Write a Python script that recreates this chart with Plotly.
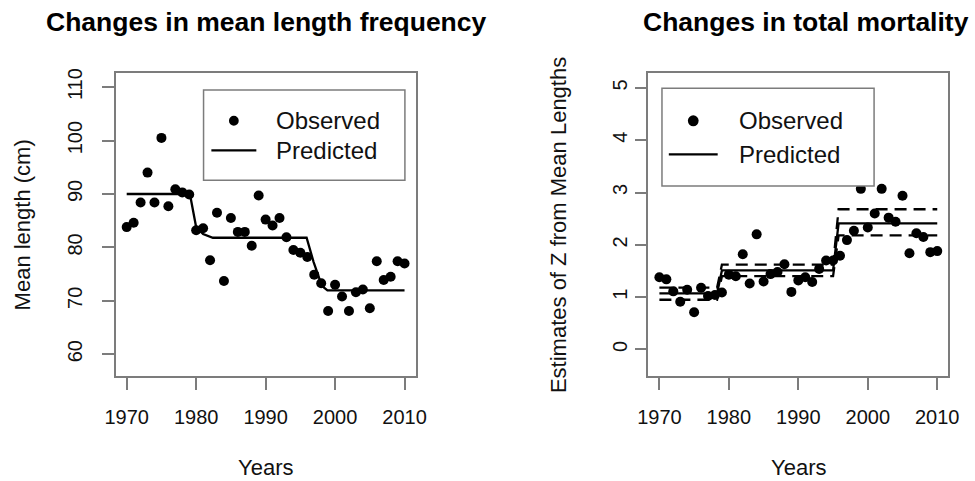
import plotly.graph_objects as go

# ---------------- data ----------------
years = list(range(1970, 2011))

mean_length_obs = [83.8, 84.6, 88.4, 94.0, 88.4, 100.5, 87.7, 90.9, 90.3, 89.9,
                   83.2, 83.6, 77.6, 86.5, 73.7, 85.5, 82.9, 82.9, 80.3, 89.7,
                   85.2, 84.1, 85.5, 81.9, 79.5, 79.0, 78.2, 74.9, 73.3, 68.1,
                   73.0, 70.8, 68.1, 71.6, 72.1, 68.6, 77.4, 73.9, 74.5, 77.4, 77.0]

pred_len_years = [1970, 1979.1, 1980.0, 1981.0, 1982.4, 1995.9, 1996.9, 1998.1, 1998.9, 2010]
pred_len_vals = [90.0, 90.0, 83.8, 82.5, 81.8, 81.8, 77.3, 72.8, 71.95, 71.95]

z_obs = [1.38, 1.34, 1.11, 0.91, 1.14, 0.71, 1.18, 1.02, 1.04, 1.09,
         1.43, 1.40, 1.82, 1.26, 2.20, 1.30, 1.44, 1.48, 1.63, 1.10,
         1.32, 1.38, 1.29, 1.54, 1.70, 1.70, 1.79, 2.09, 2.27, 3.07,
         2.33, 2.60, 3.07, 2.52, 2.44, 2.94, 1.84, 2.22, 2.15, 1.86, 1.88]

pred_z_years = [1970, 1978.3, 1979.0, 1995.0, 1995.8, 2010]
pred_z = [1.07, 1.07, 1.51, 1.51, 2.41, 2.41]
pred_z_upper = [1.18, 1.18, 1.62, 1.62, 2.68, 2.68]
pred_z_lower = [0.95, 0.95, 1.40, 1.40, 2.18, 2.18]

x_ticks = [1970, 1980, 1990, 2000, 2010]
len_ticks = [60, 70, 80, 90, 100, 110]
z_ticks = [0, 1, 2, 3, 4, 5]

titles = ["Changes in mean length frequency", "Changes in total mortality"]
ytitles = ["Mean length (cm)", "Estimates of Z from Mean Lengths"]

# ---------------- layout helpers ----------------
W, H = 975, 481
FONT = "Liberation Sans, Arial, Helvetica, sans-serif"
BOX = "#7c7c7c"
TXT = "#111111"
LEN_RANGE = [55.9, 112.6]
Z_RANGE = [-0.51, 5.28]


def px(x):
    return x / W


def py(y):
    return 1 - y / H


fig = go.Figure()

fig.add_trace(go.Scatter(x=years, y=mean_length_obs, mode="markers",
                         marker=dict(color="black", size=10),
                         xaxis="x", yaxis="y", showlegend=False, name="Observed"))
# predicted line drawn on the label-carrying companion axis (identical range)
fig.add_trace(go.Scatter(x=pred_len_years, y=pred_len_vals, mode="lines",
                         line=dict(color="black", width=2.3),
                         xaxis="x", yaxis="y3", showlegend=False, name="Predicted"))

fig.add_trace(go.Scatter(x=years, y=z_obs, mode="markers",
                         marker=dict(color="black", size=10),
                         xaxis="x2", yaxis="y2", showlegend=False, name="Observed"))
fig.add_trace(go.Scatter(x=pred_z_years, y=pred_z, mode="lines",
                         line=dict(color="black", width=2.3),
                         xaxis="x2", yaxis="y2", showlegend=False, name="Predicted"))
for band in (pred_z_upper, pred_z_lower):
    fig.add_trace(go.Scatter(x=pred_z_years, y=band, mode="lines",
                             line=dict(color="black", width=2.3, dash="12px,7px"),
                             xaxis="x2", yaxis="y2", showlegend=False))

ydom = [py(375), py(69)]
common_x = dict(range=[1968.4, 2011.6], tickvals=x_ticks, ticks="outside", ticklen=12,
                tickcolor=BOX, tickwidth=1.5, showline=True, linecolor=BOX, linewidth=1.5,
                mirror=True, showgrid=False, zeroline=False, ticklabelstandoff=10,
                tickfont=dict(family=FONT, size=20, color=TXT))
common_y = dict(ticks="outside", ticklen=12, tickcolor=BOX, tickwidth=1.5,
                showline=True, linecolor=BOX, linewidth=1.5, mirror=True,
                showgrid=False, zeroline=False, tickangle=-90,
                tickfont=dict(family=FONT, size=20, color=TXT))

fig.update_layout(
    width=W, height=H, autosize=False,
    margin=dict(l=0, r=0, t=0, b=0),
    paper_bgcolor="white", plot_bgcolor="white",
    xaxis=dict(domain=[px(107), px(414)], anchor="y", **common_x),
    yaxis=dict(domain=ydom, anchor="x", range=LEN_RANGE, tickvals=len_ticks,
               showticklabels=False, **common_y),
    # label-only companion axis, shifted left so labels sit as in the original
    yaxis3=dict(domain=ydom, overlaying="y", anchor="free", position=px(93), side="left",
                range=LEN_RANGE, tickvals=len_ticks, ticks="outside", ticklen=12,
                tickcolor="rgba(0,0,0,0)", showline=False, showgrid=False, zeroline=False,
                tickangle=-90, tickfont=dict(family=FONT, size=20, color=TXT)),
    xaxis2=dict(domain=[px(652), px(959)], anchor="y2", **common_x),
    yaxis2=dict(domain=ydom, anchor="x2", range=Z_RANGE, tickvals=z_ticks, **common_y),
    showlegend=False,
)

ann = []
# panel titles
ann.append(dict(text="<b>%s</b>" % titles[0], x=px(261), y=py(17), xref="paper", yref="paper",
                showarrow=False, xanchor="center", yanchor="middle",
                font=dict(family=FONT, size=26.5, color="black")))
ann.append(dict(text="<b>%s</b>" % titles[1], x=px(813), y=py(17), xref="paper", yref="paper",
                showarrow=False, xanchor="center", yanchor="middle",
                font=dict(family=FONT, size=26.5, color="black")))
# x axis titles
for cx in (260, 806):
    ann.append(dict(text="Years", x=px(cx), y=py(467), xref="paper", yref="paper",
                    showarrow=False, xanchor="center", yanchor="middle",
                    font=dict(family=FONT, size=22, color=TXT)))
# y axis titles
ann.append(dict(text=ytitles[0], x=px(12), y=py(222), xref="paper", yref="paper",
                showarrow=False, textangle=-90, xanchor="center", yanchor="middle",
                font=dict(family=FONT, size=22, color=TXT)))
ann.append(dict(text=ytitles[1], x=px(560), y=py(222), xref="paper", yref="paper",
                showarrow=False, textangle=-90, xanchor="center", yanchor="middle",
                font=dict(family=FONT, size=22, color=TXT)))

shapes = []


def add_legend(box, dot, line, text_x, y_obs, y_pred):
    x0, x1, y0, y1 = box
    shapes.append(dict(type="rect", xref="paper", yref="paper",
                       x0=px(x0), x1=px(x1), y0=py(y1), y1=py(y0),
                       line=dict(color=BOX, width=1.5), fillcolor="white", layer="above"))
    cx, cy, r = dot
    shapes.append(dict(type="circle", xref="paper", yref="paper",
                       x0=px(cx - r), x1=px(cx + r), y0=py(cy + r), y1=py(cy - r),
                       line=dict(color="black", width=0), fillcolor="black", layer="above"))
    lx0, lx1, ly = line
    shapes.append(dict(type="line", xref="paper", yref="paper",
                       x0=px(lx0), x1=px(lx1), y0=py(ly), y1=py(ly),
                       line=dict(color="black", width=2.3), layer="above"))
    for t, yy in (("Observed", y_obs), ("Predicted", y_pred)):
        ann.append(dict(text=t, x=px(text_x), y=py(yy), xref="paper", yref="paper",
                        showarrow=False, xanchor="left", yanchor="middle",
                        font=dict(family=FONT, size=24, color=TXT)))


add_legend((197, 403, 86, 177), (228, 117, 5), (205, 251, 147), 269, 117, 147)
add_legend((666, 883, 84, 183), (698, 117, 5.5), (673, 723, 151), 743, 117, 151)

fig.update_layout(annotations=ann, shapes=shapes)

fig.write_html("out.html")
